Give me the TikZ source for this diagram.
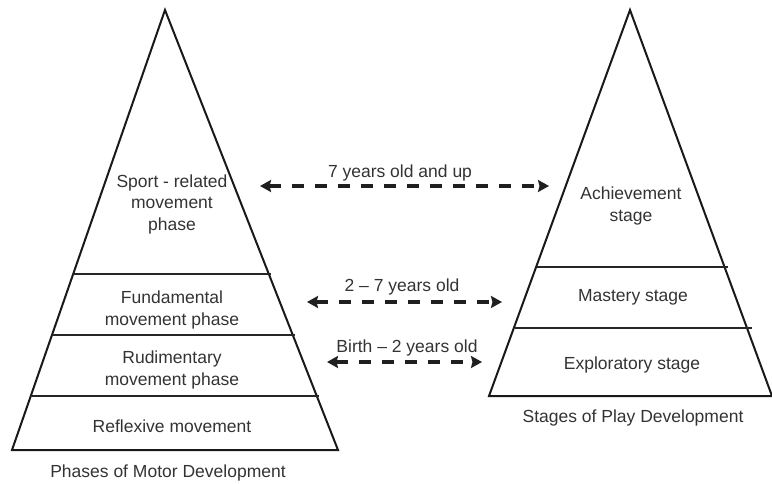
\documentclass[tikz,border=0pt]{standalone}
\usepackage{fontspec}
\setmainfont{Liberation Sans}
\usetikzlibrary{arrows.meta}
\tikzset{
  tri/.style={draw=black!90, line width=2pt, line join=miter},
  divider/.style={draw=black!85, line width=1.8pt},
  lbl/.style={font=\fontsize{17.5}{21.5}\selectfont, text=black!80, align=center, inner sep=0pt},
  agearrow/.style={draw=black!88, line width=3.3pt, dash pattern=on 12pt off 11pt,
    {Stealth[length=11pt,width=12pt,inset=1.5pt]}-{Stealth[length=11pt,width=12pt,inset=1.5pt]}}
}
\begin{document}
\begin{tikzpicture}[x=1pt,y=-1pt]
\useasboundingbox (0,0) rectangle (772,484);
% left triangle
\coordinate (LA) at (165,10);
\coordinate (LBL) at (12,450);
\coordinate (LBR) at (338,450);
\draw[tri] (LA) -- (LBR) -- (LBL) -- cycle;
\coordinate (L1a) at (72.7,274); \coordinate (L1b) at (270.5,274);
\coordinate (L2a) at (51.5,335); \coordinate (L2b) at (294.5,335);
\coordinate (L3a) at (30.3,396); \coordinate (L3b) at (318.5,396);
\draw[divider] (L1a) -- (L1b);
\draw[divider] (L2a) -- (L2b);
\draw[divider] (L3a) -- (L3b);
\node[lbl] (sport) at (172,204) {Sport - related\\movement\\phase};
\node[lbl] (fund) at (172,310) {Fundamental\\movement phase};
\node[lbl] (rud) at (172,370) {Rudimentary\\movement phase};
\node[lbl] (refl) at (172,426) {Reflexive movement};
\node[lbl] (ltitle) at (168,473) {Phases of Motor Development};
% right triangle
\coordinate (RA) at (630,10);
\coordinate (RBL) at (489,396);
\coordinate (RBR) at (772,396);
\draw[tri] (RA) -- (RBR) -- (RBL) -- cycle;
\coordinate (R1a) at (537,267); \coordinate (R1b) at (728,267);
\coordinate (R2a) at (515,328); \coordinate (R2b) at (752,328);
\draw[divider] (R1a) -- (R1b);
\draw[divider] (R2a) -- (R2b);
\node[lbl] (ach) at (631,206) {Achievement\\stage};
\node[lbl] (mast) at (633,297) {Mastery stage};
\node[lbl] (expl) at (632,365) {Exploratory stage};
\node[lbl] (rtitle) at (633,418) {Stages of Play Development};
% arrows
\coordinate (a1l) at (260,186); \coordinate (a1r) at (549,186);
\coordinate (a2l) at (307,302); \coordinate (a2r) at (502,302);
\coordinate (a3l) at (327,362); \coordinate (a3r) at (482,362);
\draw[agearrow] (a1l) -- (a1r);
\draw[agearrow] (a2l) -- (a2r);
\draw[agearrow] (a3l) -- (a3r);
\node[lbl] (t1) at (400,173) {7 years old and up};
\node[lbl] (t2) at (402,287) {2 – 7 years old};
\node[lbl] (t3) at (407,348) {Birth – 2 years old};
\end{tikzpicture}
\end{document}
